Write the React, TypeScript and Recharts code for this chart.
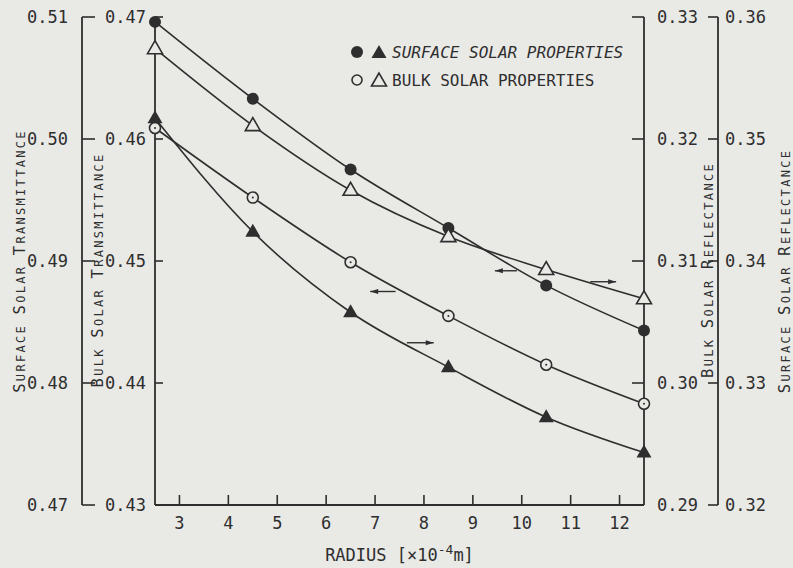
import React from 'react'
import { LineChart, Line, XAxis, YAxis, ReferenceLine } from 'recharts'

// radius of the particle, x10^-4 m
const radius = [2.5, 4.5, 6.5, 8.5, 10.5, 12.5]

const surfaceTransmittance = [0.5096, 0.5033, 0.4975, 0.4927, 0.488, 0.4843]
const bulkTransmittance = [0.4609, 0.4552, 0.4499, 0.4455, 0.4415, 0.4383]
const bulkReflectance = [0.3274, 0.3211, 0.3158, 0.312, 0.3093, 0.3069]
const surfaceReflectance = [0.3517, 0.3424, 0.3358, 0.3313, 0.3272, 0.3243]

const xTicks = [3, 4, 5, 6, 7, 8, 9, 10, 11, 12]
const surfTransTicks = [0.47, 0.48, 0.49, 0.5, 0.51]
const bulkTransTicks = [0.43, 0.44, 0.45, 0.46, 0.47]
const bulkReflTicks = [0.29, 0.3, 0.31, 0.32, 0.33]
const surfReflTicks = [0.32, 0.33, 0.34, 0.35, 0.36]

// small "which axis" arrows, in radius / bulk transmittance units
const arrowFrom = [6.9, 7.65, 9.45, 11.4]
const arrowTo = [7.42, 8.2, 9.9, 11.93]
const arrowLevel = [0.4475, 0.4433, 0.4492, 0.4483]
const arrowPoint = ['left', 'right', 'left', 'right']

const INK = '#2e2e2e'
const PAPER = '#e9e9e6'
const FONT = '"DejaVu Sans Mono", monospace'

const data = radius.map((r, i) => ({
  r,
  st: surfaceTransmittance[i],
  bt: bulkTransmittance[i],
  br: bulkReflectance[i],
  sr: surfaceReflectance[i],
}))

// ticks drawn inward, labels outside
const yTick = (side: 'left' | 'right', len: number, gap: number) => (p: any) => {
  const s = side === 'left' ? 1 : -1
  return (
    <g>
      <line x1={p.x} x2={p.x + s * len} y1={p.y} y2={p.y} stroke={INK} strokeWidth={1.6} />
      <text x={p.x - s * gap} y={p.y} textAnchor={side === 'left' ? 'end' : 'start'} dominantBaseline="central"
        fill={INK} fontFamily={FONT} fontSize={17}>
        {Number(p.payload.value).toFixed(2)}
      </text>
    </g>
  )
}

const xTick = (p: any) => (
  <g>
    <line x1={p.x} x2={p.x} y1={p.y} y2={p.y - 10} stroke={INK} strokeWidth={1.6} />
    <text x={p.x} y={p.y + 18} textAnchor="middle" dominantBaseline="central" fill={INK} fontFamily={FONT} fontSize={17}>
      {p.payload.value}
    </text>
  </g>
)

const topTick = (p: any) => <line x1={p.x} x2={p.x} y1={p.y} y2={p.y + 9} stroke={INK} strokeWidth={1.6} />

function SmallCaps({ text }: { text: string }) {
  const out: React.ReactNode[] = []
  text.split(' ').forEach((w, i) => {
    if (i > 0) out.push(<tspan key={'s' + i} fontSize={12}>{'\u00a0'}</tspan>)
    out.push(<tspan key={'a' + i} fontSize={15.5}>{w[0]}</tspan>)
    out.push(<tspan key={'b' + i} fontSize={12}>{w.slice(1)}</tspan>)
  })
  return <>{out}</>
}

const vTitle = (text: string, dx: number, dy: number) => (props: any) => {
  const vb = props.viewBox || {}
  const x = vb.x + dx
  const cy = vb.y + vb.height / 2 + dy
  return (
    <text x={x} y={cy} transform={`rotate(-90 ${x} ${cy})`} textAnchor="middle" fill={INK} fontFamily={FONT} letterSpacing={2.3}>
      <SmallCaps text={text} />
    </text>
  )
}

const xTitle = (props: any) => {
  const vb = props.viewBox || {}
  const cx = vb.x + vb.width / 2
  return (
    <text x={cx} y={vb.y + 56} textAnchor="middle" fill={INK} fontFamily={FONT} fontSize={17}>
      RADIUS [×10<tspan dy={-7} fontSize={13}>-4</tspan><tspan dy={7}>m]</tspan>
    </text>
  )
}

const arrowShape = (dir: string) => (p: any) => {
  const tip = dir === 'left' ? Math.min(p.x1, p.x2) : Math.max(p.x1, p.x2)
  const s = dir === 'left' ? 1 : -1
  return (
    <g>
      <line x1={p.x1} x2={p.x2} y1={p.y1} y2={p.y2} stroke={INK} strokeWidth={1.4} />
      <path d={`M${tip},${p.y1} L${tip + s * 8},${p.y1 - 2.6} L${tip + s * 8},${p.y1 + 2.6} Z`} fill={INK} />
    </g>
  )
}

const tri = (cx: number, cy: number) => `M${cx},${cy - 8} L${cx - 7.5},${cy + 5} L${cx + 7.5},${cy + 5} Z`

const dotFilledCircle = (p: any) => <circle key={p.index} cx={p.cx} cy={p.cy} r={6} fill={INK} />
const dotOpenCircle = (p: any) => (
  <g key={p.index}>
    <circle cx={p.cx} cy={p.cy} r={5.5} fill={PAPER} stroke={INK} strokeWidth={1.6} />
    <circle cx={p.cx} cy={p.cy} r={1} fill={INK} />
  </g>
)
const dotFilledTri = (p: any) => <path key={p.index} d={tri(p.cx, p.cy)} fill={INK} />
const dotOpenTri = (p: any) => <path key={p.index} d={tri(p.cx, p.cy)} fill={PAPER} stroke={INK} strokeWidth={1.6} />

function Legend() {
  const row = (a: React.ReactNode, b: React.ReactNode, label: string, italic: boolean) => (
    <div style={{ display: 'flex', alignItems: 'center', height: 28 }}>
      <svg width={40} height={20} style={{ marginLeft: -2 }}>{a}{b}</svg>
      <span style={{ fontFamily: FONT, fontSize: 16, color: INK, fontStyle: italic ? 'italic' : 'normal', marginLeft: 4 }}>{label}</span>
    </div>
  )
  return (
    <div style={{ position: 'absolute', left: 350, top: 38 }}>
      {row(<circle cx={9} cy={10} r={6} fill={INK} />, <path d={tri(31, 11)} fill={INK} />, 'SURFACE SOLAR PROPERTIES', true)}
      {row(
        <circle cx={9} cy={10} r={5} fill="none" stroke={INK} strokeWidth={1.6} />,
        <path d={tri(31, 11)} fill="none" stroke={INK} strokeWidth={1.6} />,
        'BULK SOLAR PROPERTIES', false,
      )}
    </div>
  )
}

export default function App() {
  const line = { type: 'monotone' as const, stroke: INK, strokeWidth: 1.6, isAnimationActive: false, xAxisId: 'b' }
  return (
    <div style={{ position: 'absolute', left: 0, top: 0, width: 793, height: 568, background: PAPER }}>
      <LineChart width={793} height={568} data={data} margin={{ top: 17, right: 15, bottom: 0, left: 22 }}>
        <XAxis xAxisId="b" dataKey="r" type="number" domain={[2.5, 12.5]} ticks={xTicks} interval={0}
          height={63} tickSize={0} tickMargin={0} tickLine={false} tick={xTick}
          axisLine={{ stroke: INK, strokeWidth: 1.8 }} label={xTitle} />
        <XAxis xAxisId="t" dataKey="r" type="number" orientation="top" domain={[2.5, 12.5]} ticks={xTicks} interval={0}
          height={0} tickSize={0} tickMargin={0} tickLine={false} tick={topTick}
          axisLine={{ stroke: INK, strokeWidth: 1.8 }} />

        <YAxis yAxisId="bt" orientation="left" width={73} domain={[0.43, 0.47]} ticks={bulkTransTicks} interval={0}
          tickSize={0} tickMargin={0} tickLine={false} tick={yTick('left', 8, 9)}
          axisLine={{ stroke: INK, strokeWidth: 1.8 }} label={vTitle('BULK SOLAR TRANSMITTANCE', 21, 9)} />
        <YAxis yAxisId="st" orientation="left" width={60} domain={[0.47, 0.51]} ticks={surfTransTicks} interval={0}
          tickSize={0} tickMargin={0} tickLine={false} tick={yTick('left', 13, 14)}
          axisLine={{ stroke: INK, strokeWidth: 1.8 }} label={vTitle('SURFACE SOLAR TRANSMITTANCE', 3, 0)} />
        <YAxis yAxisId="br" orientation="right" width={74} domain={[0.29, 0.33]} ticks={bulkReflTicks} interval={0}
          tickSize={0} tickMargin={0} tickLine={false} tick={yTick('right', 12, 13)}
          axisLine={{ stroke: INK, strokeWidth: 1.8 }} label={vTitle('BULK SOLAR REFLECTANCE', 69, 9)} />
        <YAxis yAxisId="sr" orientation="right" width={60} domain={[0.32, 0.36]} ticks={surfReflTicks} interval={0}
          tickSize={0} tickMargin={0} tickLine={false} tick={yTick('right', 10, 7)}
          axisLine={{ stroke: INK, strokeWidth: 1.8 }} label={vTitle('SURFACE SOLAR REFLECTANCE', 72, 10)} />

        {arrowFrom.map((x, i) => (
          <ReferenceLine key={i} xAxisId="b" yAxisId="bt" ifOverflow="visible"
            segment={[{ x, y: arrowLevel[i] }, { x: arrowTo[i], y: arrowLevel[i] }]}
            shape={arrowShape(arrowPoint[i])} />
        ))}

        <Line {...line} yAxisId="st" dataKey="st" dot={dotFilledCircle} />
        <Line {...line} yAxisId="br" dataKey="br" dot={dotOpenTri} />
        <Line {...line} yAxisId="bt" dataKey="bt" dot={dotOpenCircle} />
        <Line {...line} yAxisId="sr" dataKey="sr" dot={dotFilledTri} />
      </LineChart>
      <Legend />
    </div>
  )
}
